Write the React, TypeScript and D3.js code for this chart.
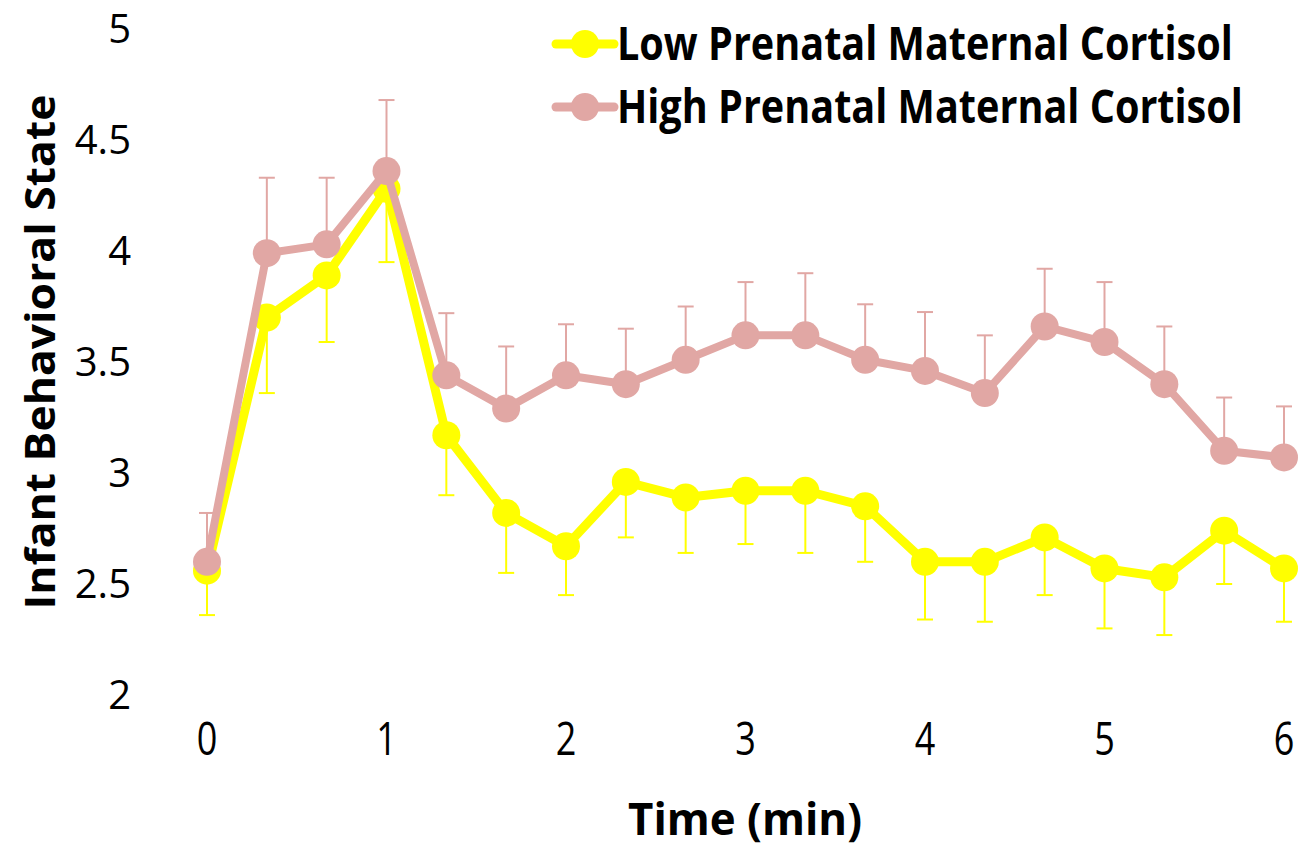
import React, { useEffect, useRef } from 'react';
import * as d3 from 'd3';

// time points, every 20 s over six minutes
const timePoints = d3.range(19).map(k => k / 3);

const lowMean = [2.56, 3.70, 3.89, 4.28, 3.17, 2.82, 2.67, 2.96, 2.89, 2.92, 2.92, 2.85, 2.60, 2.60, 2.71, 2.57, 2.53, 2.74, 2.57];
const lowSE = [0.20, 0.34, 0.30, 0.33, 0.27, 0.27, 0.22, 0.25, 0.25, 0.24, 0.28, 0.25, 0.26, 0.27, 0.26, 0.27, 0.26, 0.24, 0.24];

const highMean = [2.60, 3.99, 4.03, 4.36, 3.44, 3.29, 3.44, 3.40, 3.51, 3.62, 3.62, 3.51, 3.46, 3.36, 3.66, 3.59, 3.40, 3.10, 3.07];
const highSE = [0.22, 0.34, 0.30, 0.32, 0.28, 0.28, 0.23, 0.25, 0.24, 0.24, 0.28, 0.25, 0.265, 0.26, 0.26, 0.27, 0.26, 0.24, 0.23];

const xTicks = [0, 1, 2, 3, 4, 5, 6];
const yTicks = [2, 2.5, 3, 3.5, 4, 4.5, 5];

const seriesNames = ['Low Prenatal Maternal Cortisol', 'High Prenatal Maternal Cortisol'];

const App: React.FC = () => {
  const svgRef = useRef<SVGSVGElement>(null);

  useEffect(() => {
    const svg = d3.select(svgRef.current);
    svg.selectAll('*').remove();

    const width = 1302;
    const height = 847;
    svg.attr('width', width).attr('height', height);

    const x = d3.scaleLinear().domain([0, 6]).range([207, 1284]);
    const y = d3.scaleLinear().domain([2, 5]).range([695, 29]);

    const font = '"Open Sans", "DejaVu Sans", sans-serif';

    // squeeze a text horizontally so it spans the given width (Calibri is narrower)
    const fitWidth = (sel: d3.Selection<SVGTextElement, unknown, null, undefined>, tx: number, ty: number, target: number) => {
      const natural = (sel.node() as SVGTextElement).getComputedTextLength() || target;
      sel.attr('transform', `translate(${tx},${ty}) scale(${target / natural},1)`);
    };

    // y tick labels
    svg.append('g')
      .selectAll('text')
      .data(yTicks)
      .enter().append('text')
      .attr('x', 131)
      .attr('y', d => y(d))
      .attr('dy', '0.36em')
      .attr('text-anchor', 'end')
      .style('font-family', font)
      .style('font-size', '40px')
      .style('fill', '#000')
      .text(d => String(d));

    // x tick labels (narrow, like the original)
    svg.append('g')
      .selectAll('text')
      .data(xTicks)
      .enter().append('text')
      .attr('transform', d => `translate(${x(d)},755) scale(0.8,1)`)
      .attr('text-anchor', 'middle')
      .style('font-family', font)
      .style('font-size', '45px')
      .style('fill', '#000')
      .text(d => String(d));

    // axis titles
    svg.append('text')
      .attr('transform', 'translate(55,352) rotate(-90)')
      .attr('text-anchor', 'middle')
      .attr('textLength', 515)
      .attr('lengthAdjust', 'spacingAndGlyphs')
      .style('font-family', font)
      .style('font-weight', 700)
      .style('font-size', '42px')
      .text('Infant Behavioral State');

    const xTitle = svg.append('text')
      .attr('text-anchor', 'middle')
      .style('font-family', font)
      .style('font-weight', 700)
      .style('font-size', '44px')
      .text('Time (min)');
    fitWidth(xTitle as any, 745, 835, 234);

    const series = [
      { name: seriesNames[0], mean: lowMean, se: lowSE, color: '#FFFF00', dir: -1, lw: 9 },
      { name: seriesNames[1], mean: highMean, se: highSE, color: '#E1A7A4', dir: 1, lw: 8 }
    ];

    const line = d3.line<number>()
      .x((_, i) => x(timePoints[i]))
      .y(d => y(d));

    series.forEach(s => {
      const g = svg.append('g');

      // one-sided error bars
      const eb = g.append('g')
        .selectAll('g')
        .data(s.mean)
        .enter().append('g');
      eb.append('line')
        .attr('x1', (_, i) => x(timePoints[i]))
        .attr('x2', (_, i) => x(timePoints[i]))
        .attr('y1', d => y(d))
        .attr('y2', (d, i) => y(d + s.dir * s.se[i]))
        .style('stroke', s.color)
        .style('stroke-width', 2);
      eb.append('line')
        .attr('x1', (_, i) => x(timePoints[i]) - 8)
        .attr('x2', (_, i) => x(timePoints[i]) + 8)
        .attr('y1', (d, i) => y(d + s.dir * s.se[i]))
        .attr('y2', (d, i) => y(d + s.dir * s.se[i]))
        .style('stroke', s.color)
        .style('stroke-width', 2);

      g.append('path')
        .attr('d', line(s.mean))
        .style('fill', 'none')
        .style('stroke', s.color)
        .style('stroke-width', s.lw)
        .style('stroke-linejoin', 'round');

      g.append('g')
        .selectAll('circle')
        .data(s.mean)
        .enter().append('circle')
        .attr('cx', (_, i) => x(timePoints[i]))
        .attr('cy', d => y(d))
        .attr('r', 14)
        .style('fill', s.color);
    });

    // legend
    const legend = svg.append('g');
    series.forEach((s, i) => {
      const cy = 44 + i * 63;
      legend.append('line')
        .attr('x1', 556).attr('x2', 614)
        .attr('y1', cy).attr('y2', cy)
        .style('stroke', s.color)
        .style('stroke-width', 9)
        .style('stroke-linecap', 'round');
      legend.append('circle')
        .attr('cx', 585).attr('cy', cy).attr('r', 14)
        .style('fill', s.color);
      const t = legend.append('text')
        .style('font-family', font)
        .style('font-weight', 700)
        .style('font-size', '46px')
        .text(s.name);
      fitWidth(t as any, 617, cy + 16, i === 0 ? 616 : 626);
    });
  }, []);

  return (
    <svg ref={svgRef} style={{ position: 'absolute', left: 0, top: 0, background: '#fff' }}></svg>
  );
};

export default App;
